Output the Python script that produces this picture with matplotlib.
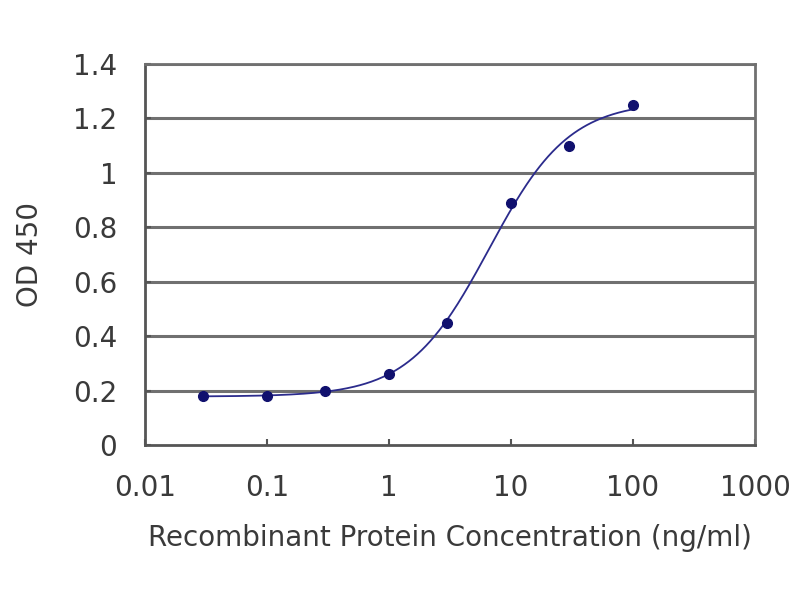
import matplotlib
matplotlib.use("Agg")
import matplotlib.pyplot as plt
import numpy as np

plt.rcParams['font.family'] = ['DejaVu Sans']

# data
conc = [0.03, 0.1, 0.3, 1, 3, 10, 30, 100]
od = [0.18, 0.18, 0.20, 0.26, 0.45, 0.89, 1.10, 1.25]

x_ticks = [0.01, 0.1, 1, 10, 100, 1000]
x_labels = ["0.01", "0.1", "1", "10", "100", "1000"]
y_ticks = [0, 0.2, 0.4, 0.6, 0.8, 1, 1.2, 1.4]
y_labels = ["0", "0.2", "0.4", "0.6", "0.8", "1", "1.2", "1.4"]

# 4-parameter logistic fit (small grid search, bottom/top solved linearly)
lx = np.log10(conc)
yy = np.array(od)
best = None
for c in np.linspace(-0.5, 1.5, 201):
    for h in np.linspace(0.5, 3.0, 126):
        s = 1.0 / (1.0 + 10 ** ((c - lx) * h))
        A = np.vstack([1 - s, s]).T
        coef, res, _, _ = np.linalg.lstsq(A, yy, rcond=None)
        err = np.sum((A @ coef - yy) ** 2)
        if best is None or err < best[0]:
            best = (err, c, h, coef)
_, c, h, coef = best
xf = np.linspace(lx[0], lx[-1], 300)
sf = 1.0 / (1.0 + 10 ** ((c - xf) * h))
yf = coef[0] * (1 - sf) + coef[1] * sf

fig = plt.figure(figsize=(8, 6), dpi=100)
ax = fig.add_axes([145 / 800, 1 - 445 / 600, 610 / 800, 381 / 600])

ax.set_xscale('log')
ax.set_xlim(0.01, 1000)
ax.set_ylim(0, 1.4)

for yv in y_ticks[1:]:
    ax.axhline(yv, color='#707070', lw=2.2, zorder=1)

ax.plot(10 ** xf, yf, color='#2b2b8c', lw=1.3, zorder=2)
ax.plot(conc, od, 'o', color='#10106e', ms=7, zorder=3)

ax.set_xticks(x_ticks)
ax.set_xticklabels(x_labels)
ax.minorticks_off()
ax.set_yticks(y_ticks)
ax.set_yticklabels(y_labels)
ax.tick_params(axis='x', direction='in', length=4, width=1.5, color='#555555',
               labelsize=20, labelcolor='#3a3a3a', pad=21)
ax.tick_params(axis='y', direction='in', length=4, width=1.5, color='#555555',
               labelsize=20, labelcolor='#3a3a3a', pad=20)

for side in ['left', 'bottom']:
    ax.spines[side].set_color('#555555')
    ax.spines[side].set_linewidth(2)
for side in ['top', 'right']:
    ax.spines[side].set_color('#707070')
    ax.spines[side].set_linewidth(2)

ax.set_xlabel("Recombinant Protein Concentration (ng/ml)", fontsize=20,
              color='#3a3a3a', labelpad=16)
ax.set_ylabel("OD 450", fontsize=20, color='#3a3a3a', labelpad=21)

fig.savefig("out.png", dpi=100)
